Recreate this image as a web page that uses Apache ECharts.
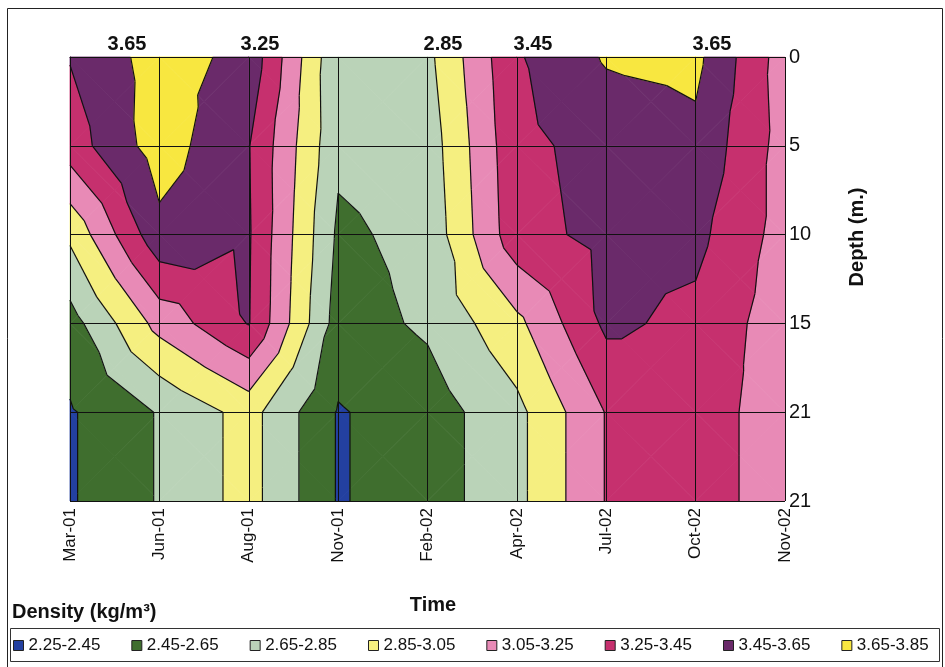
<!DOCTYPE html>
<html>
<head>
<meta charset="utf-8">
<script src="https://cdn.jsdelivr.net/npm/echarts@6/dist/echarts.min.js"></script>
<style>html,body{margin:0;padding:0;background:#fff}#c{width:945px;height:667px}</style>
</head>
<body>
<div id="c"></div>
<script>
// ---------------- data ----------------
const months = ['Mar-01', 'Jun-01', 'Aug-01', 'Nov-01', 'Feb-02', 'Apr-02', 'Jul-02', 'Oct-02', 'Nov-02'];
const depthLabels = ['0', '5', '10', '15', '21', '21'];
// density (kg/m3) per sampling month, top to bottom along depthLabels
const densMar01 = [3.46, 3.35, 2.89, 2.565, 2.43, 2.43];
const densJun01 = [3.74, 3.75, 3.594, 3.12, 2.665, 2.665];
const densAug01 = [3.59, 3.46, 3.47, 3.46, 2.925, 2.925];
const densNov01 = [2.68, 2.69, 2.615, 2.56, 2.435, 2.435];
const densFeb02 = [2.80, 2.74, 2.706, 2.682, 2.548, 2.548];
const densApr02 = [3.43, 3.40, 3.38, 3.00, 2.795, 2.795];
const densJul02 = [3.67, 3.52, 3.505, 3.49, 3.26, 3.26];
const densOct02 = [3.70, 3.60, 3.504, 3.40, 3.35, 3.35];
const densNov02 = [3.15, 3.17, 3.17, 3.14, 3.144, 3.144];
const bandNames = ['2.25-2.45', '2.45-2.65', '2.65-2.85', '2.85-3.05', '3.05-3.25', '3.25-3.45', '3.45-3.65', '3.65-3.85'];
const levels = [2.25, 2.45, 2.65, 2.85, 3.05, 3.25, 3.45, 3.65, 3.85];
const topLabels = ['3.65', '3.25', '2.85', '3.45', '3.65'];

// ---------------- styles ----------------
const bandColors = ['#2340a0', '#3f6e2e', '#bad3b8', '#f5ef80', '#e88ab6', '#c6306e', '#6a2a6a', '#f8e740'];
const topLabelPos = [[127, 44], [260, 44], [443, 44], [533, 44], [712, 44]];
const FONT = '"Liberation Sans", Arial, sans-serif';

const cols = [densMar01, densJun01, densAug01, densNov01, densFeb02, densApr02, densJul02, densOct02, densNov02];
const cells = [];
for (let r = 0; r < depthLabels.length - 1; r++)
  for (let c = 0; c < months.length - 1; c++) cells.push([c, r]);

function cellTriangles(c, r) {
  const p00 = [c, r, cols[c][r]], p10 = [c + 1, r, cols[c + 1][r]];
  const p11 = [c + 1, r + 1, cols[c + 1][r + 1]], p01 = [c, r + 1, cols[c][r + 1]];
  const ctr = [c + 0.5, r + 0.5, (p00[2] + p10[2] + p11[2] + p01[2]) / 4];
  return [[p00, p10, ctr], [p10, p11, ctr], [p11, p01, ctr], [p01, p00, ctr]];
}
function clip(poly, t, keepAbove) {
  const out = [];
  for (let i = 0; i < poly.length; i++) {
    const a = poly[i], b = poly[(i + 1) % poly.length];
    const ina = keepAbove ? a[2] >= t : a[2] < t;
    const inb = keepAbove ? b[2] >= t : b[2] < t;
    if (ina) out.push(a);
    if (ina !== inb) {
      const f = (t - a[2]) / (b[2] - a[2]);
      out.push([a[0] + f * (b[0] - a[0]), a[1] + f * (b[1] - a[1]), t]);
    }
  }
  return out;
}
function bandRender(b) {
  const lo = b === 0 ? -Infinity : levels[b];
  const hi = b === levels.length - 2 ? Infinity : levels[b + 1];
  const col = bandColors[b];
  return function (params, api) {
    const c = api.value(0), r = api.value(1);
    const children = [];
    cellTriangles(c, r).forEach(tri => {
      let poly = tri;
      if (lo > -Infinity) poly = clip(poly, lo, true);
      if (poly.length >= 3 && hi < Infinity) poly = clip(poly, hi, false);
      if (poly.length >= 3) {
        children.push({
          type: 'polygon',
          shape: { points: poly.map(p => api.coord([p[0], p[1]])) },
          style: { fill: col, stroke: col, lineWidth: 0.8 }
        });
      }
    });
    return { type: 'group', children };
  };
}
function contourRender(params, api) {
  const c = api.value(0), r = api.value(1);
  const children = [];
  cellTriangles(c, r).forEach(tri => {
    for (let k = 1; k < levels.length - 1; k++) {
      const t = levels[k];
      const pts = [];
      for (let e = 0; e < 3; e++) {
        const a = tri[e], b = tri[(e + 1) % 3];
        if ((a[2] >= t) !== (b[2] >= t)) {
          const f = (t - a[2]) / (b[2] - a[2]);
          pts.push(api.coord([a[0] + f * (b[0] - a[0]), a[1] + f * (b[1] - a[1])]));
        }
      }
      if (pts.length === 2) {
        children.push({
          type: 'line',
          shape: { x1: pts[0][0], y1: pts[0][1], x2: pts[1][0], y2: pts[1][1] },
          style: { stroke: '#111', lineWidth: 1.2 }
        });
      }
    }
  });
  return { type: 'group', children };
}

const series = bandNames.map((name, b) => ({
  name: name,
  type: 'custom',
  renderItem: bandRender(b),
  data: cells,
  encode: { x: 0, y: 1 },
  itemStyle: { color: bandColors[b] },
  silent: true,
  z: 2
}));
series.push({
  name: 'contours',
  type: 'custom',
  renderItem: contourRender,
  data: cells,
  encode: { x: 0, y: 1 },
  silent: true,
  z: 3
});

const graphics = [
  { type: 'rect', shape: { x: 7.5, y: 8.5, width: 935, height: 680 }, style: { fill: 'none', stroke: '#222', lineWidth: 1 }, silent: true },
  { type: 'rect', shape: { x: 10.5, y: 628.5, width: 929, height: 33 }, style: { fill: 'none', stroke: '#333', lineWidth: 1 }, silent: true },
  { type: 'text', x: 12, y: 612, style: { text: 'Density (kg/m³)', font: 'bold 20px ' + FONT, fill: '#111', textVerticalAlign: 'middle' } },
  { type: 'text', x: 433, y: 605, style: { text: 'Time', font: 'bold 20px ' + FONT, fill: '#111', textAlign: 'center', textVerticalAlign: 'middle' } },
  { type: 'text', x: 857, y: 237, rotation: Math.PI / 2, style: { text: 'Depth (m.)', font: 'bold 20px ' + FONT, fill: '#111', textAlign: 'center', textVerticalAlign: 'middle' } }
];
topLabels.forEach((t, i) => {
  graphics.push({ type: 'text', x: topLabelPos[i][0], y: topLabelPos[i][1], style: { text: t, font: 'bold 20px ' + FONT, fill: '#111', textAlign: 'center', textVerticalAlign: 'middle' } });
});

const chart = echarts.init(document.getElementById('c'));
chart.setOption({
  animation: false,
  backgroundColor: '#fff',
  grid: { left: 70, right: 160, top: 57, bottom: 166 },
  xAxis: {
    type: 'value', min: 0, max: months.length - 1, interval: 1, z: 10,
    axisLine: { show: true, lineStyle: { color: '#111', width: 1 } },
    axisTick: { show: true, length: 6, lineStyle: { color: '#111' } },
    splitLine: { show: true, lineStyle: { color: '#111', width: 1 } },
    axisLabel: { formatter: v => months[v], rotate: 90, fontSize: 17, color: '#111', fontFamily: FONT, margin: 7 }
  },
  yAxis: {
    type: 'value', min: 0, max: depthLabels.length - 1, interval: 1, inverse: true, position: 'right', z: 10,
    axisLine: { show: true, lineStyle: { color: '#111', width: 1 } },
    axisTick: { show: true, length: 7, lineStyle: { color: '#111' } },
    splitLine: { show: true, lineStyle: { color: '#111', width: 1 } },
    axisLabel: { formatter: v => depthLabels[v], fontSize: 20, color: '#111', fontFamily: FONT, margin: 4 }
  },
  legend: {
    data: bandNames, left: 13, top: 637, width: 930, padding: 0, icon: 'rect', itemWidth: 10, itemHeight: 10, itemGap: 31,
    selectedMode: false,
    itemStyle: { borderColor: '#222', borderWidth: 1 },
    textStyle: { fontSize: 17, color: '#111', fontFamily: FONT }
  },
  graphic: graphics,
  series: series
});
</script>
</body>
</html>
